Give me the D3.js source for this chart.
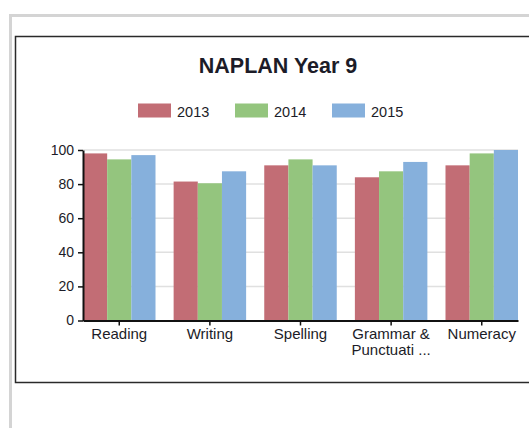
<!DOCTYPE html>
<html>
<head>
<meta charset="utf-8">
<script src="https://cdn.jsdelivr.net/npm/d3@7"></script>
<style>
    body { margin: 0; background: #fff; }
    text { font-family: "Liberation Sans", Arial, sans-serif; fill: #1c1c28; }
    .grid line { stroke: #e0e0e0; stroke-width: 1.5px; }
</style>
</head>
<body>
<div id="chart"></div>
<script>
// data
var categories = ["Reading", "Writing", "Spelling", "Grammar & Punctuati ...", "Numeracy"];
var categoryLines = [["Reading"], ["Writing"], ["Spelling"], ["Grammar &", "Punctuati ..."], ["Numeracy"]];
var years = ["2013", "2014", "2015"];
var values2013 = [98, 81.5, 91, 84, 91];
var values2014 = [94.5, 80.5, 94.5, 87.5, 98];
var values2015 = [97, 87.5, 91, 93, 100];
var yTicks = [0, 20, 40, 60, 80, 100];
var colours = ["#c26d75", "#94c57e", "#86b0dc"];

var series = [values2013, values2014, values2015];

var W = 529, H = 428;
var svg = d3.select("#chart").append("svg")
    .attr("width", W)
    .attr("height", H);

// outer grey frame
svg.append("rect").attr("x", 9).attr("y", 14).attr("width", 3).attr("height", H - 14).attr("fill", "#d4d4d4");
svg.append("rect").attr("x", 9).attr("y", 14).attr("width", W - 9).attr("height", 3).attr("fill", "#d4d4d4");

// inner black box
svg.append("rect")
    .attr("x", 15.5).attr("y", 36.5)
    .attr("width", W + 10).attr("height", 346)
    .attr("fill", "#fff")
    .attr("stroke", "#2a2a2a")
    .attr("stroke-width", 1.5);

// title
svg.append("text")
    .attr("x", 278).attr("y", 73)
    .attr("text-anchor", "middle")
    .style("font-size", "21.5px")
    .style("font-weight", "bold")
    .text("NAPLAN Year 9");

// legend
var legendX = [138, 235, 332];
var legend = svg.selectAll(".legend")
    .data(years)
    .enter().append("g")
    .attr("class", "legend")
    .attr("transform", function(d, i) { return "translate(" + legendX[i] + ",103.5)"; });
legend.append("rect")
    .attr("width", 33).attr("height", 14)
    .attr("fill", function(d, i) { return colours[i]; });
legend.append("text")
    .attr("x", 39).attr("y", 13.3)
    .style("font-size", "14.5px")
    .text(function(d) { return d; });

// scales
var margin = { left: 83, top: 150, right: 518, bottom: 320.5 };
var x0 = d3.scaleBand()
    .domain(categories)
    .range([margin.left, margin.right])
    .paddingInner(0.2)
    .paddingOuter(0);
var x1 = d3.scaleBand()
    .domain(years)
    .range([0, x0.bandwidth()]);
var y = d3.scaleLinear()
    .domain([0, 100])
    .range([margin.bottom, margin.top]);

// gridlines
svg.append("g")
    .attr("class", "grid")
    .selectAll("line")
    .data(yTicks.filter(function(d) { return d > 0; }))
    .enter().append("line")
    .attr("x1", margin.left).attr("x2", margin.right)
    .attr("y1", function(d) { return y(d); })
    .attr("y2", function(d) { return y(d); });

// bars
var groups = svg.selectAll(".group")
    .data(categories)
    .enter().append("g")
    .attr("class", "group")
    .attr("transform", function(d) { return "translate(" + x0(d) + ",0)"; });
groups.selectAll("rect")
    .data(function(d, ci) { return years.map(function(yr, si) { return { year: yr, value: series[si][ci], si: si }; }); })
    .enter().append("rect")
    .attr("x", function(d) { return x1(d.year); })
    .attr("y", function(d) { return y(d.value); })
    .attr("width", x1.bandwidth())
    .attr("height", function(d) { return y(0) - y(d.value); })
    .attr("fill", function(d) { return colours[d.si]; });

// y axis
var yAxis = svg.append("g")
    .attr("transform", "translate(" + margin.left + ",0)")
    .call(d3.axisLeft(y).tickValues(yTicks).tickSize(5).tickSizeOuter(0));
yAxis.select(".domain").attr("stroke", "#111").attr("stroke-width", 2);
yAxis.selectAll(".tick line").attr("stroke", "#111").attr("stroke-width", 1.5);
yAxis.selectAll(".tick text")
    .attr("x", -9)
    .style("font-size", "14px")
    .style("font-family", "'Liberation Sans', Arial, sans-serif")
    .attr("fill", "#1c1c28");

// x axis
var xAxis = svg.append("g")
    .attr("transform", "translate(0," + y(0) + ")")
    .call(d3.axisBottom(x0).tickSize(5).tickSizeOuter(0).tickFormat(""));
xAxis.select(".domain").attr("stroke", "#111").attr("stroke-width", 2);
xAxis.selectAll(".tick line").attr("stroke", "#111").attr("stroke-width", 1.5);

// category labels
svg.selectAll(".catlabel")
    .data(categories)
    .enter().append("text")
    .attr("class", "catlabel")
    .attr("text-anchor", "middle")
    .attr("x", function(d) { return x0(d) + x0.bandwidth() / 2; })
    .attr("y", 339)
    .style("font-size", "15px")
    .selectAll("tspan")
    .data(function(d, i) { return categoryLines[i]; })
    .enter().append("tspan")
    .attr("x", function() { var c = this.parentNode.__data__; return x0(c) + x0.bandwidth() / 2; })
    .attr("dy", function(d, i) { return i === 0 ? 0 : 16; })
    .text(function(d) { return d; });
</script>
</body>
</html>
